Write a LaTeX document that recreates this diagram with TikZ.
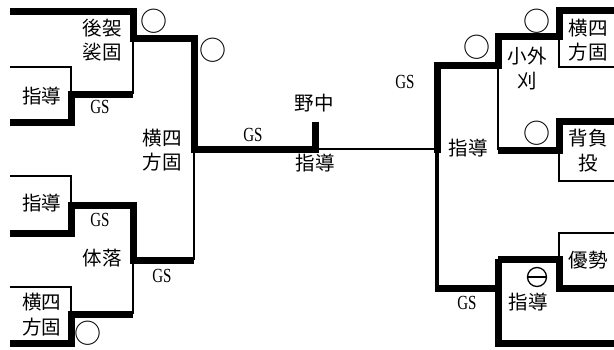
\documentclass[tikz,border=0pt]{standalone}
\usepackage{fontspec}
\usepackage{graphicx}
\newfontfamily\cjk{Noto Sans CJK JP}
\newfontfamily\gsf{Liberation Serif}
\newcommand\gsx{\scalebox{0.75}[1]{GS}}
\begin{document}
\begin{tikzpicture}[x=1pt,y=-1pt,
  thick line/.style={line width=7pt,line join=miter},
  thin line/.style={line width=1.6pt,line join=miter},
  mid line/.style={line width=2.6pt},
  semi line/.style={line width=4.5pt},
  lbl/.style={font=\cjk\fontsize{19.5}{24.5}\selectfont,align=center,inner sep=0pt},
  gslbl/.style={font=\gsf\fontsize{20}{20}\selectfont,inner sep=0pt},
  circmark/.style={font=\cjk\fontsize{27}{27}\selectfont,inner sep=0pt},
  minusmark/.style={circle,draw,line width=1.3pt,minimum size=19pt,inner sep=0pt},
]
\useasboundingbox (0,0) rectangle (614,349);
% ---------- left half ----------
\draw[thin line] (10,67) -- (71,67) -- (71,94);
\draw[thin line] (133,38) -- (133,94);
\draw[thin line] (10,176) -- (71,176) -- (71,205);
\draw[thin line] (194,149) -- (194,260);
\draw[thin line] (10,287) -- (71,287) -- (71,314);
\draw[thin line] (133,260) -- (133,314);
\draw[thick line] (10,11) -- (133,11) -- (133,38) -- (194,38) -- (194,149) -- (315,149);
\draw[thick line] (315,122) -- (315,152.5);
\draw[thick line] (10,122) -- (71,122) -- (71,94) -- (133,94);
\draw[thick line] (10,233) -- (71,233) -- (71,205) -- (133,205) -- (133,260) -- (194,260);
\draw[thick line] (10,343) -- (71,343) -- (71,314) -- (133,314);
% ---------- centre ----------
\draw[mid line] (318,149) -- (437,149);
% ---------- right half ----------
\draw[thin line] (559,36) -- (559,67) -- (614,67);
\draw[thin line] (498,65) -- (498,150);
\draw[thin line] (559,150) -- (559,181) -- (614,181);
\draw[thin line] (559,259) -- (559,233) -- (614,233);
\draw[semi line] (437,149) -- (437,288);
\draw[thick line] (437,152.5) -- (437,65) -- (498,65) -- (498,36) -- (559,36) -- (559,10) -- (614,10);
\draw[thick line] (498,150) -- (559,150) -- (559,121) -- (614,121);
\draw[thick line] (434.75,288) -- (498,288);
\draw[thick line] (498,259) -- (498,343) -- (614,343);
\draw[thick line] (498,259) -- (559,259) -- (559,288) -- (614,288);
% ---------- labels ----------
\node[lbl] (kesa) at (102,40) {後袈\\裟固};
\node[circmark] (o1) at (154,21) {○};
\node[circmark] (o2) at (213,50) {○};
\node[lbl] (sh1) at (42,96) {指導};
\node[gslbl] (gs1) at (100,107) {\gsx};
\node[lbl] (yo1) at (162,150) {横四\\方固};
\node[lbl] (nonaka) at (314,103) {野中};
\node[gslbl] (gs2) at (253,135) {\gsx};
\node[lbl] (sh2) at (315,163) {指導};
\node[lbl] (sh3) at (42,203) {指導};
\node[gslbl] (gs3) at (100,220) {\gsx};
\node[lbl] (tai) at (102,258) {体落};
\node[gslbl] (gs4) at (162,276) {\gsx};
\node[lbl] (yo2) at (42,314.5) {横四\\方固};
\node[circmark] (o3) at (88,333) {○};
\node[gslbl] (gs5) at (405,82) {\gsx};
\node[circmark] (o4) at (477,47) {○};
\node[circmark] (o5) at (537,21) {○};
\node[lbl] (yo3) at (588,40) {横四\\方固};
\node[lbl] (ko) at (527,68.5) {小外\\刈};
\node[circmark] (o6) at (537,133) {○};
\node[lbl] (se) at (588,150.5) {背負\\投};
\node[lbl] (sh4) at (468,148) {指導};
\node[lbl] (yu) at (588,260) {優勢};
\node[minusmark] (om) at (537,277) {};
\draw[line width=1.3pt] (om.west) -- (om.east);
\node[lbl] (sh5) at (528,302) {指導};
\node[gslbl] (gs6) at (467,303) {\gsx};
\end{tikzpicture}
\end{document}
